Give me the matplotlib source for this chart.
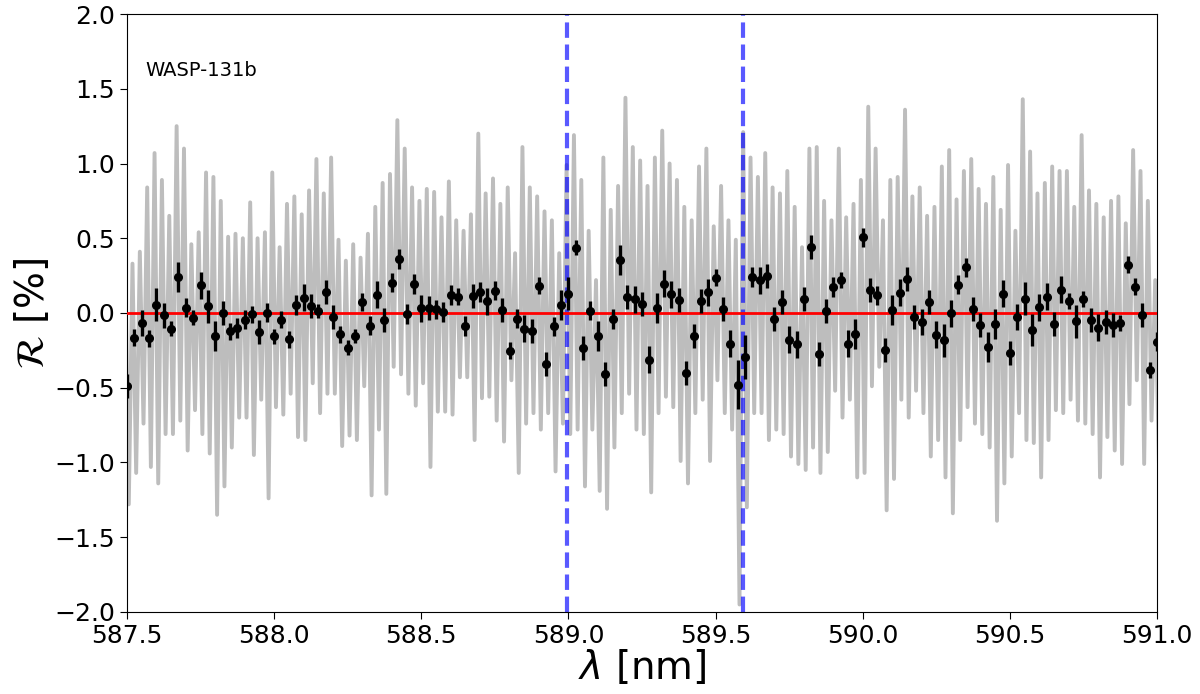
import numpy as np
import matplotlib.pyplot as plt

# binned transmission points, 0.025 nm bins starting at 587.5 nm
bin_start = 587.5
bin_step = 0.025
binned_r = [
    -0.49, -0.165, -0.067, -0.17, 0.054, -0.016, -0.105, 0.239, 0.036, -0.033,
    0.185, 0.045, -0.156, 0.002, -0.123, -0.10, -0.045, -0.009, -0.127, 0.002,
    -0.156, -0.045, -0.176, 0.054, 0.103, 0.045, 0.013, 0.143, -0.027, -0.143,
    -0.232, -0.154, 0.074, -0.085, 0.123, -0.047,
    0.203, 0.361, -0.007, 0.194, 0.033, 0.033, 0.025, 0.007, 0.120, 0.109,
    -0.087, 0.111, 0.140, 0.078, 0.149, 0.022, -0.252, -0.038, -0.105, -0.120,
    0.183, -0.343, -0.089, 0.054, 0.129, 0.437, -0.236, 0.016, -0.152, -0.408,
    -0.040, 0.355, 0.109, 0.091, 0.059, -0.312,
    0.036, 0.196, 0.125, 0.089, -0.404, -0.156, 0.080, 0.140, 0.236, 0.025,
    -0.207, -0.479, -0.294, 0.241, 0.218, 0.245, -0.042, 0.071, -0.178, -0.210,
    0.094, 0.444, -0.274, 0.011, 0.174, 0.221, -0.205, -0.138, 0.506, 0.154,
    0.118, -0.250, 0.018, 0.136, 0.228,
    -0.027, -0.060, 0.076, -0.145, -0.183, -0.002, 0.190, 0.305, 0.025, -0.078,
    -0.227, -0.076, 0.129, -0.265, -0.027, 0.096, -0.114, 0.038, 0.109, -0.071,
    0.156, 0.082, -0.054, 0.094, -0.049, -0.098, -0.060, -0.078, -0.067, 0.323,
    0.176, -0.016, -0.381, -0.192,
]
binned_err = [
    0.08, 0.055, 0.085, 0.055, 0.11, 0.085, 0.05, 0.10, 0.065, 0.05,
    0.09, 0.11, 0.10, 0.08, 0.055, 0.065, 0.065, 0.055, 0.08, 0.065,
    0.05, 0.055, 0.055, 0.065, 0.09, 0.08, 0.045, 0.08, 0.08, 0.055,
    0.05, 0.05, 0.06, 0.065, 0.09, 0.08,
    0.065, 0.065, 0.065, 0.065, 0.09, 0.08, 0.065, 0.065, 0.065, 0.055,
    0.065, 0.08, 0.065, 0.09, 0.065, 0.08, 0.055, 0.065, 0.09, 0.08,
    0.055, 0.08, 0.065, 0.10, 0.11, 0.05, 0.08, 0.065, 0.10, 0.08,
    0.065, 0.10, 0.08, 0.09, 0.08, 0.09,
    0.10, 0.09, 0.09, 0.08, 0.08, 0.08, 0.08, 0.09, 0.055, 0.08,
    0.09, 0.165, 0.145, 0.065, 0.09, 0.08, 0.08, 0.08, 0.09, 0.09,
    0.08, 0.08, 0.08, 0.08, 0.065, 0.055, 0.09, 0.10, 0.065, 0.08,
    0.065, 0.08, 0.10, 0.09, 0.08,
    0.08, 0.09, 0.08, 0.09, 0.11, 0.09, 0.065, 0.065, 0.08, 0.08,
    0.10, 0.10, 0.09, 0.08, 0.09, 0.11, 0.11, 0.09, 0.09, 0.08,
    0.09, 0.055, 0.11, 0.055, 0.08, 0.09, 0.08, 0.08, 0.055, 0.055,
    0.055, 0.08, 0.055, 0.065,
]

# full-resolution spectrum, read as local peak / trough per bin
spec_top = [
    0.35, 0.33, 0.41, 0.84, 1.07, 0.89, 0.65, 1.25, 1.10, 0.46,
    0.54, 0.94, 0.91, 0.75, 0.51, 0.53, 0.50, 0.74, 0.50, 0.54,
    0.94, 0.44, 0.73, 0.78, 0.66, 0.82, 1.03, 0.80, 1.04, 0.49,
    0.35, 0.46, 0.37, 0.53, 0.71, 0.87, 0.93, 1.29, 1.10, 0.84,
    0.75, 0.83, 0.81, 0.64, 0.88, 0.62, 0.55, 0.66, 1.20, 0.80,
    0.90, 0.73, 0.84, 0.40, 1.11, 0.84, 0.78, 0.68, 0.62, 0.40,
    0.99, 1.19, 0.89, 0.55, 0.22, 1.04, 0.69, 0.85, 1.44, 1.11,
    1.02, 0.85, 1.04, 1.22, 1.00, 0.89, 0.71, 0.62, 0.98, 1.10,
    0.58, 0.85, 0.62, 0.49, 1.21, 1.04, 0.91, 1.07, 0.84, 0.80,
    0.95, 0.71, 0.44, 1.10, 1.11, 0.75, 0.62, 1.10, 0.64, 0.73,
    0.89, 1.38, 1.10, 0.62, 0.89, 0.91, 1.36, 0.78, 0.84, 0.65,
    0.71, 0.98, 1.09, 0.76, 0.95, 1.03, 0.83, 0.73, 0.91, 0.69,
    0.99, 0.55, 1.43, 1.08, 0.80, 0.87, 0.98, 0.95, 0.95, 0.71,
    1.19, 0.82, 0.73, 0.64, 0.75, 0.78, 0.60, 1.09, 0.95, 0.75,
    0.22,
]
spec_bottom = [
    -1.28, -1.07, -0.74, -1.03, -1.14, -0.81, -0.81, -0.72, -0.92, -0.65,
    -0.81, -0.94, -1.35, -1.16, -0.90, -0.70, -0.70, -0.95, -0.58, -1.24,
    -0.63, -0.68, -0.54, -0.83, -0.85, -0.47, -0.67, -0.54, -0.54, -0.89,
    -0.82, -0.85, -0.49, -1.22, -0.78, -1.21, -0.36, -0.41, -0.54, -0.62,
    -0.47, -1.03, -0.66, -0.66, -0.68, -0.43, -0.43, -0.85, -0.57, -0.56,
    -0.72, -0.86, -0.45, -1.07, -0.74, -0.67, -0.78, -0.67, -1.06, -0.74,
    -0.81, -0.78, -1.16, -0.78, -1.19, -1.31, -0.90, -0.67, -0.54, -0.78,
    -0.81, -1.20, -0.67, -0.56, -0.63, -0.99, -1.14, -0.67, -0.58, -0.99,
    -0.45, -0.67, -0.78, -1.95, -1.30, -0.67, -0.67, -0.85, -0.78, -0.81,
    -0.96, -1.01, -1.05, -0.90, -1.07, -0.93, -0.52, -0.70, -0.58, -1.10,
    -1.07, -0.49, -0.36, -1.32, -1.11, -0.58, -0.70, -0.52, -0.67, -0.96,
    -0.85, -1.10, -1.34, -0.85, -0.63, -0.74, -0.81, -0.90, -1.39, -1.14,
    -0.96, -0.67, -0.85, -0.87, -1.10, -0.85, -0.65, -0.67, -0.58, -0.72,
    -0.74, -0.81, -1.10, -0.83, -0.92, -1.01, -0.61, -0.45, -1.01, -0.72,
    -0.99,
]

# sodium doublet
na_lines = [588.995, 589.592]

wl = bin_start + bin_step * np.arange(len(binned_r))
spec_x = np.column_stack([wl - bin_step / 4, wl + bin_step / 4]).ravel()
spec_y = np.column_stack([spec_top, spec_bottom]).ravel()

fig = plt.figure(figsize=(12, 6.94), dpi=100)
ax = fig.add_axes([0.1058, 0.1182, 0.8584, 0.8616])

ax.plot(spec_x, spec_y, color='#bdbdbd', lw=2.8, zorder=1)
for line in na_lines:
    ax.axvline(line, color='b', alpha=0.65, ls='--', lw=3, zorder=2)
ax.axhline(0, color='r', lw=2, zorder=3)
ax.errorbar(wl, binned_r, yerr=binned_err, fmt='o', color='k', ms=5.5,
            elinewidth=2.4, capsize=0, zorder=4)

ax.set_xlim(587.5, 591.0)
ax.set_ylim(-2.0, 2.0)
ax.set_xticks(np.arange(587.5, 591.01, 0.5))
ax.set_yticks(np.arange(-2.0, 2.01, 0.5))
ax.tick_params(labelsize=18, length=5)
ax.set_xlabel(r'$\lambda$ [nm]', fontsize=28, labelpad=0)
ax.set_ylabel(r'$\mathcal{R}$ [%]', fontsize=28, labelpad=2)
ax.text(0.018, 0.905, 'WASP-131b', transform=ax.transAxes, fontsize=14,
        ha='left', va='center')

fig.savefig('out.png', dpi=100)
